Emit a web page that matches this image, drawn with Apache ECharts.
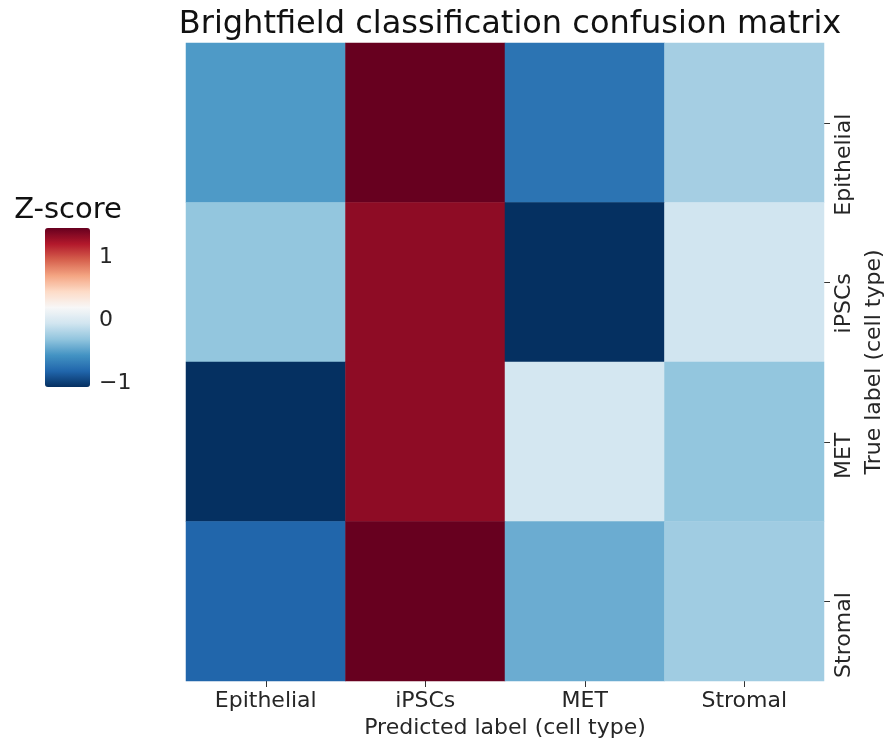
<!DOCTYPE html>
<html>
<head>
<meta charset="utf-8">
<script src="https://cdn.jsdelivr.net/npm/echarts@6/dist/echarts.min.js"></script>
<style>html,body{margin:0;padding:0;background:#fff;}#c{width:887px;height:744px;}</style>
</head>
<body>
<div id="c"></div>
<script>
const predictedLabels = ['Epithelial', 'iPSCs', 'MET', 'Stromal'];
const trueLabels = ['Epithelial', 'iPSCs', 'MET', 'Stromal'];
// z-score rows, one array per true label (columns = predicted label)
const rowEpithelial = [-0.52, 1.46, -0.73, -0.23];
const rowIPSCs = [-0.30, 1.33, -1.06, -0.05];
const rowMET = [-1.06, 1.33, -0.03, -0.30];
const rowStromal = [-0.81, 1.46, -0.43, -0.25];
const zRows = [rowEpithelial, rowIPSCs, rowMET, rowStromal];
const colorbarTicks = [-1, 0, 1];
const zMin = -1.06, zMax = 1.46;

const cells = [];
zRows.forEach((row, r) => row.forEach((v, c) => cells.push([c, r, v])));

const rdbuR = ['#053061','#2166ac','#4393c3','#92c5de','#d1e5f0','#f7f7f7','#fddbc7','#f4a582','#d6604d','#b2182b','#67001f'];
const font = 'DejaVu Sans';
const txt = '#262626';

const chart = echarts.init(document.getElementById('c'), null, {renderer: 'canvas'});
chart.setOption({
  animation: false,
  backgroundColor: '#fff',
  title: [{
    text: 'Brightfield classification confusion matrix',
    left: 505, top: 4, textAlign: 'center',
    textStyle: {fontFamily: font, fontSize: 32, fontWeight: 'normal', color: '#111'}
  }, {
    text: 'Z-score',
    left: 63, top: 191, textAlign: 'center',
    textStyle: {fontFamily: font, fontSize: 29, fontWeight: 'normal', color: '#111'}
  }],
  grid: [
    {left: 186, top: 43, width: 638, height: 638, outerBoundsMode: 'none', containLabel: false},
    {left: 45, top: 228, width: 45, height: 159, outerBoundsMode: 'none', containLabel: false}
  ],
  xAxis: [{
    type: 'category', gridIndex: 0, data: predictedLabels, position: 'bottom',
    axisLine: {show: false},
    axisTick: {show: true, alignWithLabel: true, length: 6, lineStyle: {color: '#333'}},
    axisLabel: {fontFamily: font, fontSize: 22, color: txt, margin: 9},
    name: 'Predicted label (cell type)', nameLocation: 'middle', nameGap: 36,
    nameTextStyle: {fontFamily: font, fontSize: 22, color: txt},
    splitLine: {show: false}
  }, {
    type: 'value', gridIndex: 1, show: false, min: 0, max: 1
  }],
  yAxis: [{
    type: 'category', gridIndex: 0, data: trueLabels, inverse: true, position: 'right',
    axisLine: {show: false},
    axisTick: {show: true, alignWithLabel: true, length: 6, lineStyle: {color: '#333'}},
    axisLabel: {fontFamily: font, fontSize: 22, color: txt, rotate: 90, margin: 20,
      align: 'right', verticalAlign: 'middle', padding: [0, -9, 0, 0]},
    name: 'True label (cell type)', nameLocation: 'middle', nameGap: 37, nameRotate: 90,
    nameTextStyle: {fontFamily: font, fontSize: 22, color: txt, verticalAlign: 'top'},
    splitLine: {show: false}
  }, {
    type: 'value', gridIndex: 1, position: 'right', min: zMin, max: zMax,
    axisLine: {show: false},
    axisTick: {show: true, length: 6, lineStyle: {color: '#333'}, customValues: colorbarTicks},
    axisLabel: {fontFamily: font, fontSize: 22, color: txt, margin: 9, customValues: colorbarTicks,
      formatter: v => (v < 0 ? '\u2212' + Math.abs(v) : String(v))},
    splitLine: {show: false}
  }],
  visualMap: {
    type: 'continuous', min: zMin, max: zMax, seriesIndex: 0,
    orient: 'vertical', left: 45, top: 228, itemWidth: 45, itemHeight: 159,
    padding: 0, calculable: false, text: null, showLabel: false,
    inRange: {color: rdbuR}
  },
  series: [{
    type: 'heatmap', xAxisIndex: 0, yAxisIndex: 0, data: cells,
    itemStyle: {borderWidth: 0}, emphasis: {disabled: true}
  }]
});
</script>
</body>
</html>
